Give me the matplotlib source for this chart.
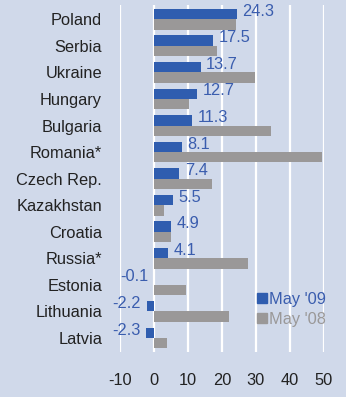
import matplotlib
matplotlib.use("Agg")
import matplotlib.pyplot as plt
from matplotlib.patches import Patch
import numpy as np

countries = ["Poland", "Serbia", "Ukraine", "Hungary", "Bulgaria", "Romania*",
             "Czech Rep.", "Kazakhstan", "Croatia", "Russia*", "Estonia",
             "Lithuania", "Latvia"]
may09 = [24.3, 17.5, 13.7, 12.7, 11.3, 8.1, 7.4, 5.5, 4.9, 4.1, -0.1, -2.2, -2.3]
may08 = [24.1, 18.5, 29.7, 10.2, 34.4, 49.5, 17.2, 2.9, 4.9, 27.6, 9.4, 22.0, 3.7]
xticks = [-10, 0, 10, 20, 30, 40, 50]

bg = "#D0D9EA"
blue = "#2F5DAF"
grey = "#9A9898"
label_blue = "#3A5DAE"

plt.rcParams["font.family"] = ["Liberation Sans", "DejaVu Sans"]
plt.rcParams["font.size"] = 11.8

fig = plt.figure(figsize=(3.46, 3.97), dpi=100, facecolor=bg)
ax = fig.add_axes([0.347, 0.113, 0.589, 0.874], facecolor=bg)

y = np.arange(len(countries))
h = 0.39
ax.barh(y - h / 2, may09, height=h, color=blue, zorder=3)
ax.barh(y + h / 2, may08, height=h, color=grey, zorder=3)

# value labels for May '09
for yi, v in zip(y, may09):
    if v >= 0:
        ax.annotate(f"{v:.1f}", (v, yi - h / 2), xytext=(4, 2), textcoords="offset points",
                    ha="left", va="center", color=label_blue, zorder=4)
    else:
        ax.annotate(f"{v:.1f}", (v, yi - h / 2), xytext=(-4, 2), textcoords="offset points",
                    ha="right", va="center", color=label_blue, zorder=4)

ax.set_xlim(-10, 50)
ax.set_ylim(len(countries) - 0.47, -0.53)
ax.set_xticks(xticks)
ax.set_xticklabels([str(t) for t in xticks])
ax.set_yticks(y)
ax.set_yticklabels(countries)
ax.tick_params(axis="x", length=0, pad=15, colors="#222222")
ax.tick_params(axis="y", length=0, pad=13, colors="#222222")
ax.xaxis.grid(True, color="white", linewidth=1.6, zorder=1)
ax.set_axisbelow(True)
for s in ax.spines.values():
    s.set_visible(False)

handles = [Patch(color=blue), Patch(color=grey)]
fig.legend(handles, ["May '09", "May '08"], loc="upper left",
           bbox_to_anchor=(257 / 346, 1 - 292 / 397), frameon=False,
           handlelength=0.6, handleheight=0.6, handletextpad=0.15,
           labelspacing=0.3, borderpad=0, borderaxespad=0,
           labelcolor=[label_blue, grey])

fig.savefig("out.png", dpi=100, facecolor=bg)
